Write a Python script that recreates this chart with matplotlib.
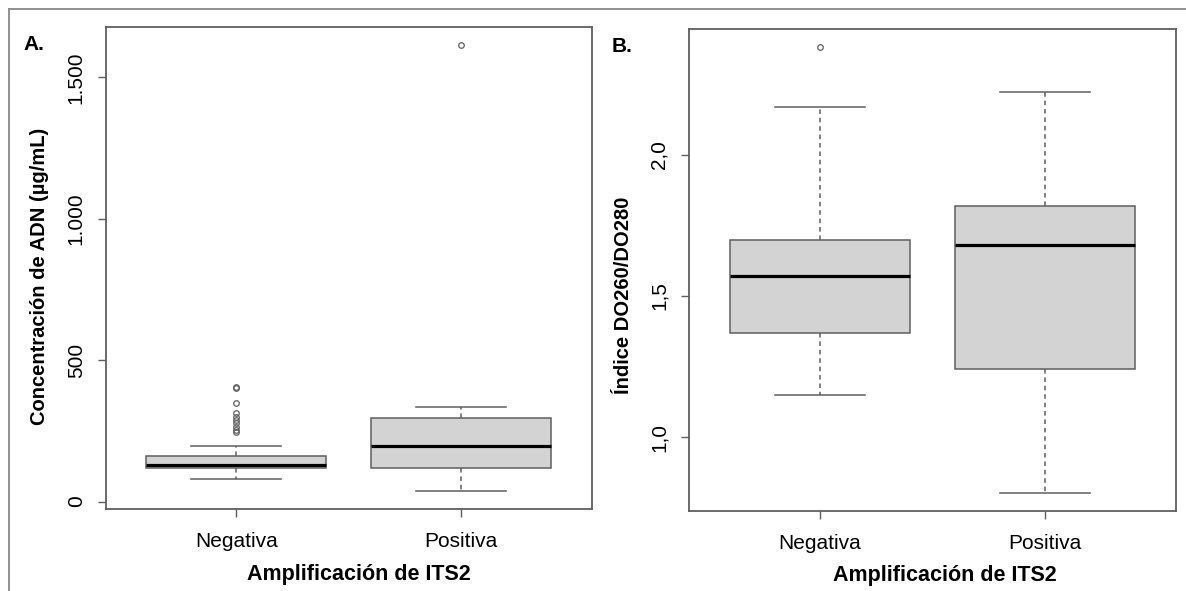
import matplotlib
matplotlib.use("Agg")
import matplotlib.pyplot as plt
from matplotlib.lines import Line2D

plt.rcParams['font.family'] = ['Liberation Sans', 'DejaVu Sans']

categories = ["Negativa", "Positiva"]

# Panel A: DNA concentration (µg/mL)
conc_whislo = [81, 38]
conc_q1 = [120, 120]
conc_med = [130, 198]
conc_q3 = [161, 296]
conc_whishi = [198, 335]
conc_fliers = [[405, 402, 347, 312, 300, 288, 277, 265, 253, 245], [1614]]
conc_ticks = [0, 500, 1000, 1500]
conc_ticklabels = ["0", "500", "1.000", "1.500"]

# Panel B: DO260/DO280 ratio
ratio_whislo = [1.149, 0.803]
ratio_q1 = [1.370, 1.240]
ratio_med = [1.569, 1.681]
ratio_q3 = [1.699, 1.820]
ratio_whishi = [2.170, 2.2215]
ratio_fliers = [[2.382], []]
ratio_ticks = [1.0, 1.5, 2.0]
ratio_ticklabels = ["1,0", "1,5", "2,0"]

W, H = 1186, 591
fig = plt.figure(figsize=(W / 100, H / 100), dpi=100)

LINE = '#5f5f5f'
FILL = '#D3D3D3'


def px_axes(x0, x1, ytop, ybot):
    return fig.add_axes([x0 / W, (H - ybot) / H, (x1 - x0) / W, (ybot - ytop) / H])


def draw(ax, whislo, q1, med, q3, whishi, fliers, ticks, ticklabels, ylabel, letter_xy, letter):
    stats = []
    for i in range(len(categories)):
        stats.append(dict(whislo=whislo[i], q1=q1[i], med=med[i], q3=q3[i],
                          whishi=whishi[i], fliers=fliers[i], label=categories[i]))
    ax.bxp(stats, positions=[1, 2], widths=0.8, patch_artist=True, showfliers=True,
           boxprops=dict(facecolor=FILL, edgecolor=LINE, linewidth=1.1),
           medianprops=dict(color='black', linewidth=2.3, solid_capstyle='butt'),
           whiskerprops=dict(color=LINE, linewidth=1.1, linestyle=(0, (3, 2.5))),
           capprops=dict(color=LINE, linewidth=1.1),
           capwidths=0.4,
           flierprops=dict(marker='o', markersize=4, markerfacecolor='none',
                           markeredgecolor=LINE, markeredgewidth=0.9))
    allv = list(whislo) + list(whishi) + [v for f in fliers for v in f]
    lo, hi = min(allv), max(allv)
    r = hi - lo
    ax.set_ylim(lo - 0.04 * r, hi + 0.04 * r)
    ax.set_xlim(0.42, 2.58)
    ax.set_yticks(ticks)
    ax.set_yticklabels(ticklabels, rotation=90, va='center')
    ax.set_xticks([1, 2])
    ax.set_xticklabels(categories)
    ax.tick_params(axis='both', colors=LINE, labelcolor='black', labelsize=15,
                   length=5.5, width=1.0)
    ax.tick_params(axis='x', pad=11.5)
    ax.tick_params(axis='y', pad=9)
    for s in ax.spines.values():
        s.set_color(LINE)
        s.set_linewidth(1.3)
    ax.set_ylabel(ylabel, fontsize=14.5, fontweight='bold', va='center')
    ax.set_xlabel("Amplificación de ITS2", fontsize=15.5, fontweight='bold', va='center')
    fig.text(letter_xy[0] / W, 1 - letter_xy[1] / H, letter, fontsize=15,
             fontweight='bold', ha='left', va='center')


axA = px_axes(106, 591.7, 27.3, 508.7)
draw(axA, conc_whislo, conc_q1, conc_med, conc_q3, conc_whishi, conc_fliers,
     conc_ticks, conc_ticklabels, "Concentración de ADN (µg/mL)", (23, 45), "A.")
axA.yaxis.set_label_coords(-0.136, 0.482)
axA.xaxis.set_label_coords(0.521, -0.1377)

axB = px_axes(689, 1176, 29, 510.5)
draw(axB, ratio_whislo, ratio_q1, ratio_med, ratio_q3, ratio_whishi, ratio_fliers,
     ratio_ticks, ratio_ticklabels, "Índice DO260/DO280", (612, 47), "B.")
axB.yaxis.set_label_coords(-0.1355, 0.447)
axB.xaxis.set_label_coords(0.525, -0.134)

# outer frame lines (top and left)
fig.add_artist(Line2D([9 / W, 1], [1 - 9 / H, 1 - 9 / H], transform=fig.transFigure,
                      color='#888888', linewidth=1.3))
fig.add_artist(Line2D([9 / W, 9 / W], [0, 1 - 9 / H], transform=fig.transFigure,
                      color='#888888', linewidth=1.3))

fig.savefig("out.png", dpi=100)
